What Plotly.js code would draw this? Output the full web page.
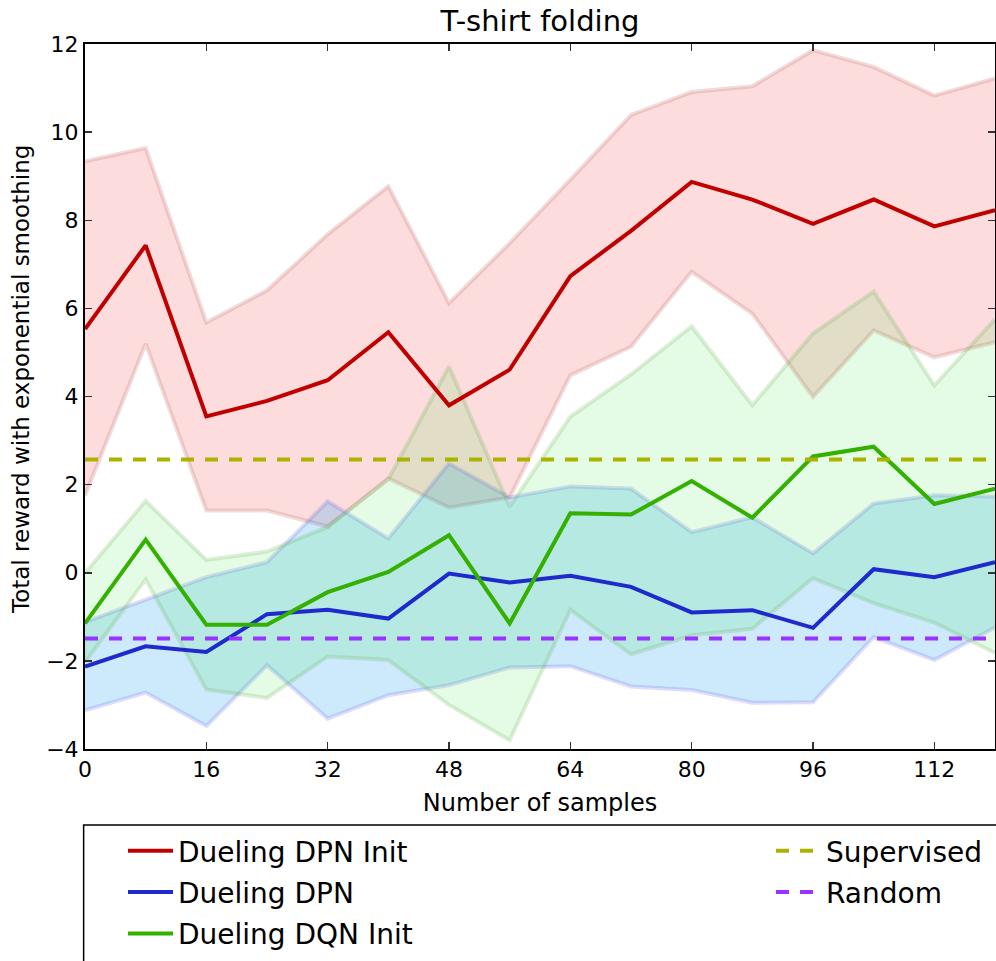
<!DOCTYPE html>
<html>
<head>
<meta charset="utf-8">
<script src="https://cdn.plot.ly/plotly-3.0.1.min.js"></script>
<style>html,body{margin:0;padding:0;background:#fff;}#chart{width:996px;height:961px;}</style>
</head>
<body>
<div id="chart"></div>
<script>
// Number of samples (x)
const samples = [0, 8, 16, 24, 32, 40, 48, 56, 64, 72, 80, 88, 96, 104, 112, 120];

// Dueling DPN Init (red)
const dpnInitMean  = [5.53, 7.43, 3.55, 3.90, 4.37, 5.46, 3.80, 4.61, 6.73, 7.76, 8.87, 8.47, 7.92, 8.47, 7.86, 8.23];
const dpnInitUpper = [9.34, 9.64, 5.68, 6.41, 7.68, 8.77, 6.12, 7.48, 8.92, 10.39, 10.91, 11.04, 11.86, 11.48, 10.83, 11.22];
const dpnInitLower = [1.75, 5.20, 1.41, 1.41, 1.05, 2.14, 1.48, 1.71, 4.48, 5.13, 6.83, 5.88, 3.99, 5.50, 4.89, 5.23];

// Dueling DPN (blue)
const dpnMean  = [-2.13, -1.67, -1.80, -0.94, -0.84, -1.04, -0.02, -0.22, -0.07, -0.32, -0.90, -0.85, -1.25, 0.08, -0.10, 0.24];
const dpnUpper = [-1.12, -0.60, -0.10, 0.24, 1.62, 0.78, 2.48, 1.71, 1.96, 1.91, 0.92, 1.26, 0.44, 1.57, 1.76, 1.73];
const dpnLower = [-3.12, -2.72, -3.48, -2.10, -3.31, -2.78, -2.55, -2.15, -2.12, -2.58, -2.66, -2.95, -2.94, -1.46, -1.98, -1.24];

// Dueling DQN Init (green)
const dqnInitMean  = [-1.15, 0.75, -1.18, -1.18, -0.44, 0.02, 0.85, -1.15, 1.35, 1.32, 2.08, 1.25, 2.64, 2.86, 1.56, 1.91];
const dqnInitUpper = [-0.01, 1.63, 0.29, 0.48, 1.04, 2.12, 4.68, 1.50, 3.54, 4.50, 5.59, 3.80, 5.43, 6.38, 4.25, 5.75];
const dqnInitLower = [-2.03, -0.15, -2.65, -2.84, -1.90, -1.98, -3.00, -3.80, -0.84, -1.85, -1.42, -1.27, -0.12, -0.69, -1.13, -1.82];

// Baselines (constant levels)
const supervisedLevel = 2.57;
const randomLevel = -1.49;

const xTicks = [0, 16, 32, 48, 64, 80, 96, 112];
const yTicks = [-4, -2, 0, 2, 4, 6, 8, 10, 12];

const FONT = 'DejaVu Sans, Verdana, sans-serif';

function band(upper, lower, fill, edge, group) {
  return [
    {x: samples, y: upper, mode: 'lines', line: {color: edge, width: 4}, showlegend: false,
     legendgroup: group, hoverinfo: 'skip'},
    {x: samples, y: lower, mode: 'lines', fill: 'tonexty', fillcolor: fill,
     line: {color: edge, width: 4}, showlegend: false, legendgroup: group, hoverinfo: 'skip'}
  ];
}

const traces = [].concat(
  band(dpnInitUpper, dpnInitLower, 'rgba(240,80,80,0.2)', 'rgba(200,110,110,0.25)', 'g1'),
  band(dpnUpper, dpnLower, 'rgba(0,150,240,0.2)', 'rgba(110,100,230,0.22)', 'g2'),
  band(dqnInitUpper, dqnInitLower, 'rgba(30,230,50,0.12)', 'rgba(90,170,60,0.2)', 'g3'),
  [
    {x: samples, y: dpnInitMean, mode: 'lines', name: 'Dueling DPN Init', legend: 'legend',
     legendgroup: 'g1', line: {color: '#c00000', width: 4}},
    {x: samples, y: dpnMean, mode: 'lines', name: 'Dueling DPN', legend: 'legend',
     legendgroup: 'g2', line: {color: '#1f2acc', width: 4}},
    {x: samples, y: dqnInitMean, mode: 'lines', name: 'Dueling DQN Init', legend: 'legend',
     legendgroup: 'g3', line: {color: '#33b000', width: 4}},
    {x: [samples[0], samples[samples.length - 1]], y: [supervisedLevel, supervisedLevel],
     mode: 'lines', name: 'Supervised', legend: 'legend2', legendgroup: 'g4',
     line: {color: '#aab400', width: 4, dash: '13px,11px'}},
    {x: [samples[0], samples[samples.length - 1]], y: [randomLevel, randomLevel],
     mode: 'lines', name: 'Random', legend: 'legend2', legendgroup: 'g5',
     line: {color: '#9933ff', width: 4, dash: '13px,11px'}}
  ]
);

const axisCommon = {
  showline: true, linewidth: 2, linecolor: '#000', mirror: 'allticks',
  ticks: 'inside', ticklen: 7, tickwidth: 1.5, tickcolor: '#333',
  showgrid: false, zeroline: false, automargin: false,
  tickfont: {family: FONT, size: 22, color: '#000'}
};

const layout = {
  width: 996, height: 961,
  margin: {l: 85, r: 1, t: 44, b: 212, autoexpand: false},
  paper_bgcolor: '#fff', plot_bgcolor: '#fff',
  font: {family: FONT, color: '#000'},
  title: {text: 'T-shirt folding', font: {family: FONT, size: 29, color: '#000'},
          x: 0.5, xref: 'paper', xanchor: 'center', y: 1 - 21 / 961, yref: 'container', yanchor: 'middle'},
  xaxis: Object.assign({}, axisCommon, {
    range: [0, 120], tickvals: xTicks, ticktext: xTicks.map(String),
    title: {text: 'Number of samples', font: {family: FONT, size: 24, color: '#000'}, standoff: 13}
  }),
  yaxis: Object.assign({}, axisCommon, {
    range: [-4, 12], tickvals: yTicks
  }),
  annotations: [
    {text: 'Total reward with exponential smoothing', xref: 'paper', yref: 'paper',
     x: -64 / 910, y: (749 - 380) / 705, xanchor: 'center', yanchor: 'middle', textangle: -90,
     showarrow: false, font: {family: FONT, size: 23, color: '#000'}}
  ],
  legend: {x: 123 / 996, xref: 'container', xanchor: 'left', y: 1 - 826 / 961, yref: 'container', yanchor: 'top',
           orientation: 'v', itemwidth: 45, tracegroupgap: 2, bgcolor: 'rgba(0,0,0,0)', borderwidth: 0,
           font: {family: FONT, size: 28, color: '#000'}},
  legend2: {x: 771 / 996, xref: 'container', xanchor: 'left', y: 1 - 826 / 961, yref: 'container', yanchor: 'top',
            orientation: 'v', itemwidth: 45, tracegroupgap: 2, bgcolor: 'rgba(0,0,0,0)', borderwidth: 0,
            font: {family: FONT, size: 28, color: '#000'}},
  shapes: [
    {type: 'rect', xref: 'paper', yref: 'paper', x0: -0.0015, x1: 1.2, y0: -0.1078, y1: -0.5,
     line: {color: '#000', width: 1.5}, fillcolor: 'rgba(0,0,0,0)', layer: 'above'}
  ],
  showlegend: true
};

Plotly.newPlot('chart', traces, layout, {displayModeBar: false, staticPlot: true});
</script>
</body>
</html>
